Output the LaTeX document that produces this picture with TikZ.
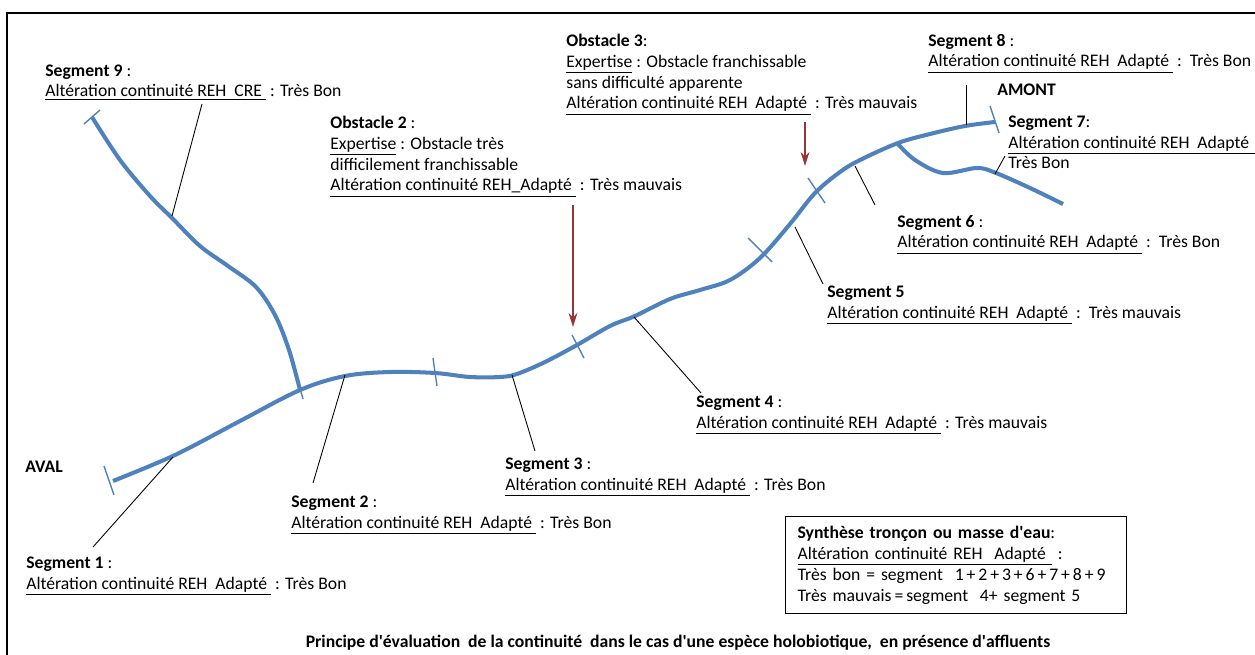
\documentclass[tikz,border=0pt]{standalone}
\usepackage{fontspec}
\setmainfont{Carlito}
\usepackage{xcolor}
\usepackage{tikz}
\usetikzlibrary{arrows.meta}

\begin{document}
\begin{tikzpicture}[x=0.02cm, y=-0.02cm,
    every node/.style={font=\fontsize{10.05}{11.95}\selectfont, inner sep=0pt, align=left, anchor=base west},
    riviere/.style={draw=bleuR, line width=2.3pt},
    coupure/.style={draw=bleuR, line width=0.8pt},
    renvoi/.style={draw=black, line width=0.5pt},
    obstacle/.style={draw=rougeO, line width=1.1pt, -{Stealth[length=8pt, width=5pt]}}]

    % Definimos colores
    \definecolor{bleuR}{RGB}{79,129,189}   % bleu riviere
    \definecolor{rougeO}{RGB}{149,55,53}   % rouge obstacle

    \useasboundingbox (0,0) rectangle (1255,655);

    % Cadre
    \draw[line width=1.1pt] (7,655) -- (7,13) -- (1255,13);

    % Cours principal
    \draw[riviere] plot[smooth, tension=0.55] coordinates {(113,481) (175,455) (240,421) (300,390) (345,376) (390,372) (435,373) (470,377) (500,377) (517,374) (545,362) (577,345) (610,326) (635,316) (670,299) (700,290) (730,280) (760,258) (790,224) (815,193) (840,172) (860,160) (898,143) (930,134) (965,126) (995,122)};

    % Affluent segment 9
    \draw[riviere] plot[smooth, tension=0.55] coordinates {(92,117) (120,160) (150,196) (172,218) (200,246) (228,266) (256,287) (275,315) (289,350) (300,390)};

    % Affluent segment 7
    \draw[riviere] plot[smooth, tension=0.55] coordinates {(897,143) (915,160) (943,173) (977,168) (996,173) (1030,188) (1063,204)};

    % Limites de segments
    \draw[coupure] (104,466) -- (114,495);   % aval
    \draw[coupure] (84,124) -- (100,110);    % haut segment 9
    \draw[coupure] (297,378) -- (303,399);   % confluence
    \draw[coupure] (433,358) -- (437,386);
    \draw[coupure] (572,335) -- (584,358);
    \draw[coupure] (748,238) -- (772,262);
    \draw[coupure] (808,178) -- (825,203);
    \draw[coupure] (990,106) -- (999,133);   % amont

    % Textes (position = ligne de base de la derniere ligne)
    \node (aval) at (25,472) {\textbf{AVAL}};
    \node (amont) at (997,96) {\textbf{AMONT}};

    \node (seg9) at (45,97) {\textbf{Segment 9} :\\\underline{Altération continuité REH\ \ CRE\ } : Très Bon};
    \node (seg1) at (26,589) {\textbf{Segment 1} :\\\underline{Altération continuité REH\ \ Adapté\ } : Très Bon};
    \node (seg2) at (291,528) {\textbf{Segment 2} :\\\underline{Altération continuité REH\ \ Adapté\ } : Très Bon};
    \node (seg3) at (505,490) {\textbf{Segment 3} :\\\underline{Altération continuité REH\ \ Adapté\ } : Très Bon};
    \node (seg4) at (696,428) {\textbf{Segment 4} :\\\underline{Altération continuité REH\ \ Adapté\ } : Très mauvais};
    \node (seg5) at (827,318) {\textbf{Segment 5}\\\underline{Altération continuité REH\ \ Adapté\ } :\ \ Très mauvais};
    \node (seg6) at (897,248) {\textbf{Segment 6} :\\\underline{Altération continuité REH\ \ Adapté\ } :\ \ Très Bon};
    \node (seg7) at (1008,169) {\textbf{Segment 7}:\\\underline{Altération continuité REH\ \ Adapté\ \ }\\Très Bon};
    \node (seg8) at (928,67) {\textbf{Segment 8} :\\\underline{Altération continuité REH\ \ Adapté\ } :\ \ Très Bon};

    \node (obs2) at (330,191) {\textbf{Obstacle 2} :\\\underline{Expertise} : Obstacle très\\difficilement franchissable\\\underline{Altération continuité REH\_Adapté\ } : Très mauvais};
    \node (obs3) at (566,109) {\textbf{Obstacle 3}:\\\underline{Expertise} : Obstacle franchissable\\sans difficulté apparente\\\underline{Altération continuité REH\ \ Adapté\ } : Très mauvais};

    \node[draw, line width=0.7pt, anchor=north west, inner xsep=0.24cm, minimum width=6.82cm, minimum height=1.94cm, text width=6.34cm] (synthese) at (785,516) {\textbf{Synthèse tronçon ou masse d\textquotesingle eau}:\\\underline{Altération continuité REH\ \ Adapté\ } :\\Très bon = segment~~1\,+\,2\,+\,3\,+\,6\,+\,7\,+\,8\,+\,9\\Très mauvais\,=\,segment~~4+ segment~5};

    \node[anchor=base] (titre) at (678,647) {\textbf{Principe d\textquotesingle évaluation\ \ de la continuité\ \ dans le cas d\textquotesingle une espèce holobiotique,\ \ en présence d\textquotesingle affluents}};

    % Renvois vers les segments
    \coordinate (s9a) at (202,104);  \coordinate (s9b) at (172,216);
    \coordinate (s1a) at (93,547);   \coordinate (s1b) at (173,457);
    \coordinate (s2a) at (313,483);  \coordinate (s2b) at (345,375);
    \coordinate (s3a) at (535,451);  \coordinate (s3b) at (512,375);
    \coordinate (s4a) at (701,393);  \coordinate (s4b) at (634,317);
    \coordinate (s5a) at (823,284);  \coordinate (s5b) at (795,227);
    \coordinate (s6a) at (875,205);  \coordinate (s6b) at (855,166);
    \coordinate (s7a) at (1005,156); \coordinate (s7b) at (995,174);
    \coordinate (s8a) at (966,85);   \coordinate (s8b) at (966,125);

    \draw[renvoi] (s9a) -- (s9b);
    \draw[renvoi] (s1a) -- (s1b);
    \draw[renvoi] (s2a) -- (s2b);
    \draw[renvoi] (s3a) -- (s3b);
    \draw[renvoi] (s4a) -- (s4b);
    \draw[renvoi] (s5a) -- (s5b);
    \draw[renvoi] (s6a) -- (s6b);
    \draw[renvoi] (s7a) -- (s7b);
    \draw[renvoi] (s8a) -- (s8b);

    % Obstacles
    \coordinate (o2a) at (573,205);  \coordinate (o2b) at (573,327);
    \coordinate (o3a) at (805,122);  \coordinate (o3b) at (805,166);
    \draw[obstacle] (o2a) -- (o2b);
    \draw[obstacle] (o3a) -- (o3b);

\end{tikzpicture}
\end{document}
